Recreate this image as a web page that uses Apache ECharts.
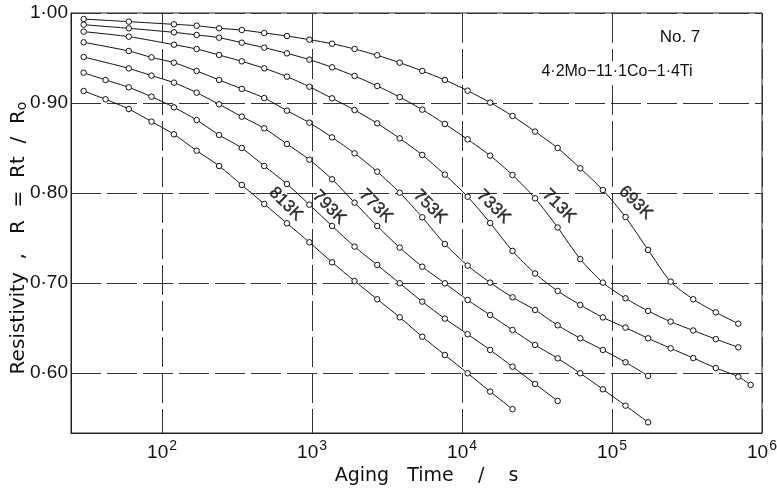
<!DOCTYPE html>
<html>
<head>
<meta charset="utf-8">
<title>Resistivity vs aging time</title>
<script src="https://cdn.jsdelivr.net/npm/echarts@6/dist/echarts.min.js"></script>
<style>
html, body { margin: 0; padding: 0; background: #fff; }
#main { width: 777px; height: 490px; }
</style>
</head>
<body>
<div id="main"></div>
<script>
// aging time steps (s)
var tSec = [30, 42, 60, 85, 120, 170, 240, 340, 480, 680, 960, 1360, 1920, 2720, 3840,
            5430, 7680, 10900, 15400, 21700, 30700, 43400, 61400, 86900, 123000,
            174000, 246000, 348000, 492000, 695000, 840000];

var temps = ['693K', '713K', '733K', '753K', '773K', '793K', '813K'];

// R = Rt / Ro, one value per time step (null = not measured)
var r693 = [0.9933, null, 0.9904, null, 0.9874, 0.9859, 0.9830, 0.9811, 0.9778, 0.9744,
            0.9704, 0.9659, 0.9600, 0.9530, 0.9448, 0.9356, 0.9256, 0.9137, 0.9004, 0.8856,
            0.8682, 0.8500, 0.8274, 0.8033, 0.7733, 0.7367, 0.7015, 0.6819, 0.6674, 0.6548];
var r713 = [0.9870, null, 0.9830, null, 0.9785, 0.9756, 0.9726, 0.9670, 0.9615, 0.9552,
            0.9482, 0.9396, 0.9300, 0.9189, 0.9066, 0.8926, 0.8767, 0.8596, 0.8415, 0.8200,
            0.7941, 0.7617, 0.7265, 0.7004, 0.6830, 0.6689, 0.6570, 0.6472, 0.6376, 0.6285];
var r733 = [0.9793, null, 0.9737, null, 0.9648, 0.9600, 0.9533, 0.9463, 0.9385, 0.9293,
            0.9181, 0.9052, 0.8922, 0.8774, 0.8607, 0.8422, 0.8204, 0.7959, 0.7667, 0.7356,
            0.7105, 0.6911, 0.6756, 0.6617, 0.6504, 0.6385, 0.6274, 0.6166, 0.6055, 0.5959, 0.5867];
var r753 = [0.9674, null, 0.9578, 0.9507, 0.9448, 0.9356, 0.9256, 0.9157, 0.9055, 0.8915,
            0.8781, 0.8618, 0.8441, 0.8237, 0.8004, 0.7730, 0.7433, 0.7193, 0.7004, 0.6841,
            0.6700, 0.6530, 0.6385, 0.6256, 0.6119, 0.5968];
var r773 = [0.9511, null, 0.9385, 0.9304, 0.9226, 0.9115, 0.8985, 0.8848, 0.8719, 0.8544,
            0.8370, 0.8152, 0.7893, 0.7633, 0.7393, 0.7181, 0.6997, 0.6811, 0.6644, 0.6478,
            0.6311, 0.6163, 0.5997, 0.5819, 0.5637, 0.5452];
var r793 = [0.9337, 0.9256, 0.9174, 0.9070, 0.8952, 0.8811, 0.8644, 0.8500, 0.8300, 0.8100,
            0.7870, 0.7633, 0.7404, 0.7200, 0.6997, 0.6793, 0.6604, 0.6430, 0.6256, 0.6070,
            0.5878, 0.5689];
var r813 = [0.9133, 0.9041, 0.8933, 0.8793, 0.8652, 0.8470, 0.8300, 0.8089, 0.7878, 0.7663,
            0.7452, 0.7230, 0.7022, 0.6819, 0.6619, 0.6403, 0.6200, 0.5997, 0.5793, 0.5598];

var yTicks = [0.60, 0.70, 0.80, 0.90, 1.00];
var xDecades = [2, 3, 4, 5, 6];

// where each temperature label sits (time, R)
var labelTime = [143800, 44300, 16200, 6120, 2660, 1298, 668];
var labelR = [0.7892, 0.7856, 0.7848, 0.7848, 0.7856, 0.7841, 0.7878];

var allR = [r693, r713, r733, r753, r773, r793, r813];

var sans = '"Liberation Sans", sans-serif';
var wide = '"DejaVu Sans", sans-serif';

var series = allR.map(function (arr, k) {
    var pts = [];
    arr.forEach(function (v, i) {
        if (v != null) pts.push([tSec[i], v]);
    });
    return {
        name: temps[k],
        type: 'line',
        data: pts,
        smooth: 0.25,
        symbol: 'circle',
        symbolSize: 5.5,
        lineStyle: { color: '#111', width: 1 },
        itemStyle: { color: '#fff', borderColor: '#111', borderWidth: 1 },
        z: 3
    };
});

series.push({
    type: 'scatter',
    silent: true,
    symbolSize: 0,
    data: temps.map(function (t, i) {
        return { name: t, value: [labelTime[i], labelR[i]] };
    }),
    label: {
        show: true,
        position: 'inside',
        formatter: '{b}',
        rotate: -45,
        fontFamily: sans,
        fontSize: 17,
        color: '#000',
        textBorderColor: '#000',
        textBorderWidth: 0.4
    },
    z: 5
});

var chart = echarts.init(document.getElementById('main'));
chart.setOption({
    animation: false,
    backgroundColor: '#fff',
    grid: {
        left: 71, right: 15, top: 13, bottom: 57,
        outerBoundsMode: 'none',
        containLabel: false,
        show: true, borderColor: '#222', borderWidth: 1
    },
    xAxis: {
        type: 'log',
        logBase: 10,
        min: 24.7,
        max: 1000000,
        name: 'Aging   Time    /    s',
        nameLocation: 'middle',
        nameGap: 34,
        nameTextStyle: { fontFamily: wide, fontSize: 19, color: '#111', padding: [0, 0, 0, 20] },
        axisLine: { lineStyle: { color: '#222' } },
        axisTick: { show: false },
        minorTick: { show: false },
        splitLine: { show: true, lineStyle: { color: '#333', width: 1, type: [30, 6] } },
        axisLabel: {
            margin: 6,
            formatter: function (v) {
                var e = Math.log10(v), n = Math.round(e);
                if (Math.abs(e - n) > 1e-6 || xDecades.indexOf(n) < 0) return '';
                return '{b|10}{s|' + n + '}';
            },
            rich: {
                b: { fontFamily: sans, fontSize: 19, color: '#111', verticalAlign: 'bottom' },
                s: { fontFamily: sans, fontSize: 14, color: '#111', verticalAlign: 'bottom', padding: [0, 0, 9, 1] }
            }
        }
    },
    yAxis: {
        type: 'value',
        min: 0.5333,
        max: 1.0,
        splitNumber: 5,
        name: '{a|Resistivity  ,   R  =  Rt  /  R}{s|o}',
        nameLocation: 'middle',
        nameRotate: 90,
        nameGap: 42,
        nameMoveOverlap: false,
        nameTextStyle: {
            padding: [0, 30, 0, 0],
            rich: {
                a: { fontFamily: wide, fontSize: 20, color: '#111' },
                s: { fontFamily: wide, fontSize: 14, color: '#111', padding: [7, 0, 0, 0] }
            }
        },
        axisLine: { show: true, lineStyle: { color: '#222' } },
        axisTick: { show: false },
        splitLine: { show: true, lineStyle: { color: '#333', width: 1, type: [30, 6] } },
        axisLabel: {
            margin: 3,
            fontFamily: sans,
            fontSize: 19,
            color: '#111',
            formatter: function (v) {
                for (var i = 0; i < yTicks.length; i++) {
                    if (Math.abs(v - yTicks[i]) < 1e-6) return yTicks[i].toFixed(2).replace('.', '\u00b7');
                }
                return '';
            }
        }
    },
    graphic: [
        {
            type: 'text', x: 680, y: 37, z: 100,
            style: { text: 'No. 7', fontFamily: sans, fontSize: 17, fill: '#111',
                     textAlign: 'center', textVerticalAlign: 'middle' }
        },
        {
            type: 'text', x: 617, y: 72, z: 100,
            style: { text: '4\u00b72Mo\u221211\u00b71Co\u22121\u00b74Ti', fontFamily: sans, fontSize: 16, fill: '#111',
                     textAlign: 'center', textVerticalAlign: 'middle',
                     backgroundColor: '#fff', padding: [3, 4] }
        }
    ],
    series: series
});
</script>
</body>
</html>
